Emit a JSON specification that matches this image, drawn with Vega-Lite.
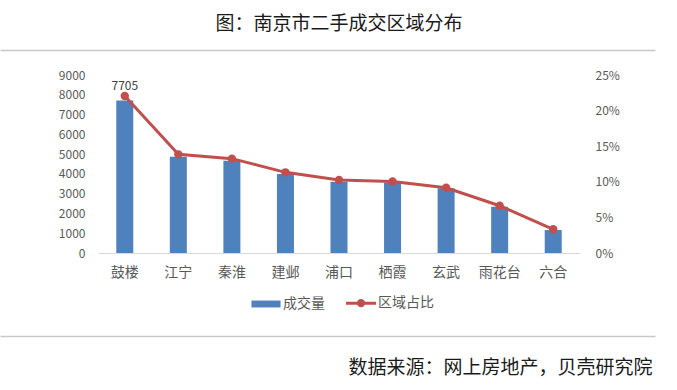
{
  "$schema": "https://vega.github.io/schema/vega-lite/v6.json",
  "width": 482,
  "height": 178,
  "autosize": {"type": "none"},
  "padding": {"left": 98, "top": 75, "right": 97, "bottom": 137},
  "background": "white",
  "config": {
    "view": {"stroke": null},
    "font": "Noto Sans CJK SC",
    "axis": {"grid": false}
  },
  "title": {
    "text": "图：南京市二手成交区域分布",
    "fontSize": 19,
    "font": "Noto Sans CJK SC",
    "fontWeight": "normal",
    "color": "#1a1a1a",
    "anchor": "middle",
    "offset": 16
  },
  "data": {
    "values": [
      {"district": "鼓楼", "count": 7705, "share": 0.2205},
      {"district": "江宁", "count": 4870, "share": 0.1386},
      {"district": "秦淮", "count": 4660, "share": 0.1325},
      {"district": "建邺", "count": 3990, "share": 0.1133},
      {"district": "浦口", "count": 3600, "share": 0.1025},
      {"district": "栖霞", "count": 3570, "share": 0.1005},
      {"district": "玄武", "count": 3270, "share": 0.0917},
      {"district": "雨花台", "count": 2340, "share": 0.0664},
      {"district": "六合", "count": 1160, "share": 0.0333}
    ]
  },
  "resolve": {"scale": {"x": "independent", "y": "independent"}},
  "layer": [
    {
      "mark": {"type": "bar", "size": 17},
      "encoding": {
        "x": {
          "field": "district", "type": "nominal", "sort": null,
          "scale": {"paddingInner": 0, "paddingOuter": 0},
          "axis": {"orient": "bottom", "title": null, "labelAngle": 0, "ticks": false, "domainColor": "#D9D9D9", "labelFontSize": 14, "labelColor": "#595959", "labelPadding": 12}
        },
        "y": {
          "field": "count", "type": "quantitative",
          "scale": {"domain": [0, 9000], "nice": false},
          "axis": {"orient": "left", "title": null, "values": [0, 1000, 2000, 3000, 4000, 5000, 6000, 7000, 8000, 9000], "format": "d", "domain": false, "ticks": false, "labelPadding": 13, "labelFontSize": 12, "labelColor": "#595959"}
        },
        "color": {
          "datum": "成交量", "type": "nominal",
          "scale": {"domain": ["成交量", "区域占比"], "range": ["#4F81BD", "#C0504D"]},
          "legend": {
            "orient": "none", "legendX": 161, "legendY": 221, "direction": "horizontal", "title": null,
            "symbolSize": 900, "labelFontSize": 14, "labelColor": "#595959", "labelOffset": 10, "columnPadding": 15, "padding": 0,
            "encode": {
              "symbols": {
                "update": {
                  "shape": {"signal": "datum.value == '成交量' ? 'M-0.97,-0.23H0.97V0.23H-0.97Z' : 'M-1,0H1M0.18,0A0.18,0.18 0 1,1 -0.18,0A0.18,0.18 0 1,1 0.18,0Z'"},
                  "fill": {"signal": "datum.value == '成交量' ? '#4F81BD' : '#C0504D'"},
                  "stroke": {"signal": "datum.value == '成交量' ? '#4F81BD' : '#C0504D'"},
                  "strokeWidth": {"signal": "datum.value == '成交量' ? 0 : 3"},
                  "opacity": {"value": 1},
                  "fillOpacity": {"value": 1},
                  "strokeOpacity": {"value": 1}
                }
              }
            }
          }
        }
      }
    },
    {
      "mark": {"type": "line", "strokeWidth": 3, "point": {"filled": true, "size": 70}},
      "encoding": {
        "x": {"field": "district", "type": "nominal", "sort": null, "axis": null},
        "y": {
          "field": "share", "type": "quantitative",
          "scale": {"domain": [0, 0.25], "nice": false},
          "axis": {"orient": "right", "title": null, "values": [0, 0.05, 0.1, 0.15, 0.2, 0.25], "format": ".0%", "domain": false, "ticks": false, "labelPadding": 15, "labelFontSize": 12, "labelColor": "#595959"}
        },
        "color": {"datum": "区域占比", "type": "nominal"}
      }
    },
    {
      "mark": {"type": "text", "baseline": "alphabetic", "dy": -6, "fontSize": 12, "color": "#404040"},
      "encoding": {
        "x": {"field": "district", "type": "nominal", "sort": null, "axis": null},
        "y": {"field": "share", "type": "quantitative", "scale": {"domain": [0, 0.25], "nice": false}, "axis": null},
        "text": {"condition": {"test": "datum.district == '鼓楼'", "field": "count", "type": "quantitative", "format": "d"}, "value": ""}
      }
    },
    {
      "data": {"values": [{"v": 0}, {"v": 1}]},
      "mark": {"type": "rule", "strokeOpacity": 0},
      "encoding": {
        "x": {
          "field": "v", "type": "quantitative",
          "scale": {"domain": [0, 1], "range": [-98, 557], "nice": false, "zero": false},
          "axis": {"orient": "top", "offset": 25, "labels": false, "ticks": false, "grid": false, "title": null, "domainColor": "#C8C8C8", "domainWidth": 1.5}
        }
      }
    },
    {
      "data": {"values": [{"w": 0}, {"w": 1}]},
      "mark": {"type": "rule", "strokeOpacity": 0},
      "encoding": {
        "x": {
          "field": "w", "type": "quantitative",
          "scale": {"domain": [0, 1], "range": [-98, 557], "nice": false, "zero": false},
          "axis": {"orient": "bottom", "offset": 83, "labels": false, "ticks": false, "grid": false, "domainColor": "#C8C8C8", "domainWidth": 1.5,
            "title": "数据来源：网上房地产，贝壳研究院", "titleFontSize": 19, "titleFontWeight": "normal", "titleColor": "#1a1a1a", "titleX": 554, "titleY": 31, "titleAlign": "right", "titleBaseline": "middle", "titleAnchor": null}
        }
      }
    }
  ]
}
